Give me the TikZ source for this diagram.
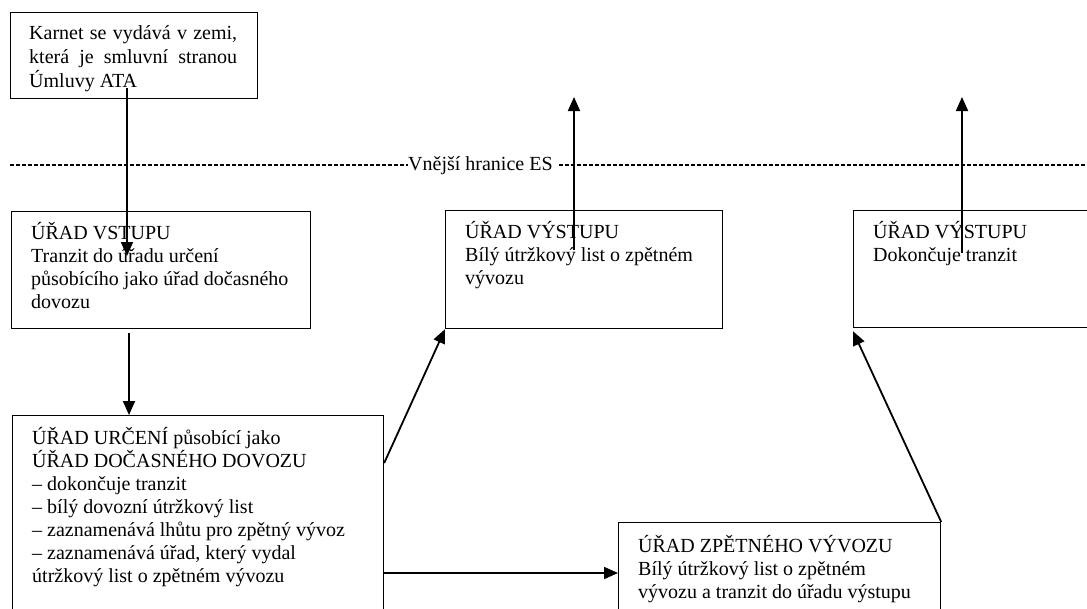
\documentclass[tikz,border=0pt]{standalone}
\usepackage{fontspec}
\setmainfont{Liberation Serif}
\usetikzlibrary{arrows.meta,calc}
\begin{document}
\begin{tikzpicture}[x=1pt,y=-1pt,
  box/.style={draw,line width=1.2pt,inner sep=0pt,anchor=north west},
  txt/.style={inner sep=0pt,anchor=base west,align=left,font=\fontsize{20}{23}\selectfont},
  arr/.style={line width=1.8pt,-{Triangle[length=14pt,width=12pt]}},
  dashline/.style={line width=1.2pt,dash pattern=on 4pt off 2pt}]
\useasboundingbox (0,0) rectangle (1087,608);
% boxes
\node[box,minimum width=247pt,minimum height=86pt] (b1) at (10,12) {};
\node[box,minimum width=299pt,minimum height=117pt] (b2) at (11,211) {};
\node[box,minimum width=371pt,minimum height=205pt] (b3) at (12,415) {};
\node[box,minimum width=277pt,minimum height=118pt] (b4) at (445,210) {};
\node[box,minimum width=247pt,minimum height=117pt] (b5) at (853,210) {};
\node[box,minimum width=322pt,minimum height=98pt] (b6) at (618,522) {};
% texts (anchored at the baseline of their last line)
\node[txt,font=\fontsize{20}{24}\selectfont] (t1) at (29,87)
  {\makebox[208pt][s]{Karnet se vydává v zemi,}\\\makebox[208pt][s]{která je smluvní stranou}\\Úmluvy ATA};
\node[txt] (t2) at (31,308) {ÚŘAD VSTUPU\\Tranzit do úřadu určení\\působícího jako úřad dočasného\\dovozu};
\node[txt] (t3) at (32,582) {ÚŘAD URČENÍ působící jako\\ÚŘAD DOČASNÉHO DOVOZU\\– dokončuje tranzit\\– bílý dovozní útržkový list\\– zaznamenává lhůtu pro zpětný vývoz\\– zaznamenává úřad, který vydal\\útržkový list o zpětném vývozu};
\node[txt] (t4) at (465,284) {ÚŘAD VÝSTUPU\\Bílý útržkový list o zpětném\\vývozu};
\node[txt] (t5) at (873,261) {ÚŘAD VÝSTUPU\\Dokončuje tranzit};
\node[txt] (t6) at (638,598) {ÚŘAD ZPĚTNÉHO VÝVOZU\\Bílý útržkový list o zpětném\\vývozu a tranzit do úřadu výstupu};
% border line
\node[txt] (es) at (408,170) {Vnější hranice ES};
\coordinate (dl) at (10,165);
\coordinate (dr) at (1087,165);
\draw[dashline] (dl) -- (dl -| es.west);
\draw[dashline] ([xshift=6pt]es.east |- dl) -- (dr);
% free ends
\coordinate (a1s) at (127,88);
\coordinate (a1e) at (127,256);
\coordinate (a4s) at (574,250);
\coordinate (a4e) at (574,97);
\coordinate (a6s) at (962,253);
\coordinate (a6e) at (962,97);
% connectors
\draw[arr] (a1s) -- (a1e);
\draw[arr] ([xshift=118pt,yshift=-4pt]b2.south west) -- ([xshift=117pt]b3.north west);
\draw[arr] ([yshift=-48pt]b3.north east) -- (b4.south west);
\draw[arr] (a4s) -- (a4e);
\draw[arr] (b6.north east) -- ([yshift=-3pt]b5.south west);
\draw[arr] (a6s) -- (a6e);
\draw[arr] ([yshift=-158pt]b3.north east) -- ([yshift=-51pt]b6.north west);
\end{tikzpicture}
\end{document}
